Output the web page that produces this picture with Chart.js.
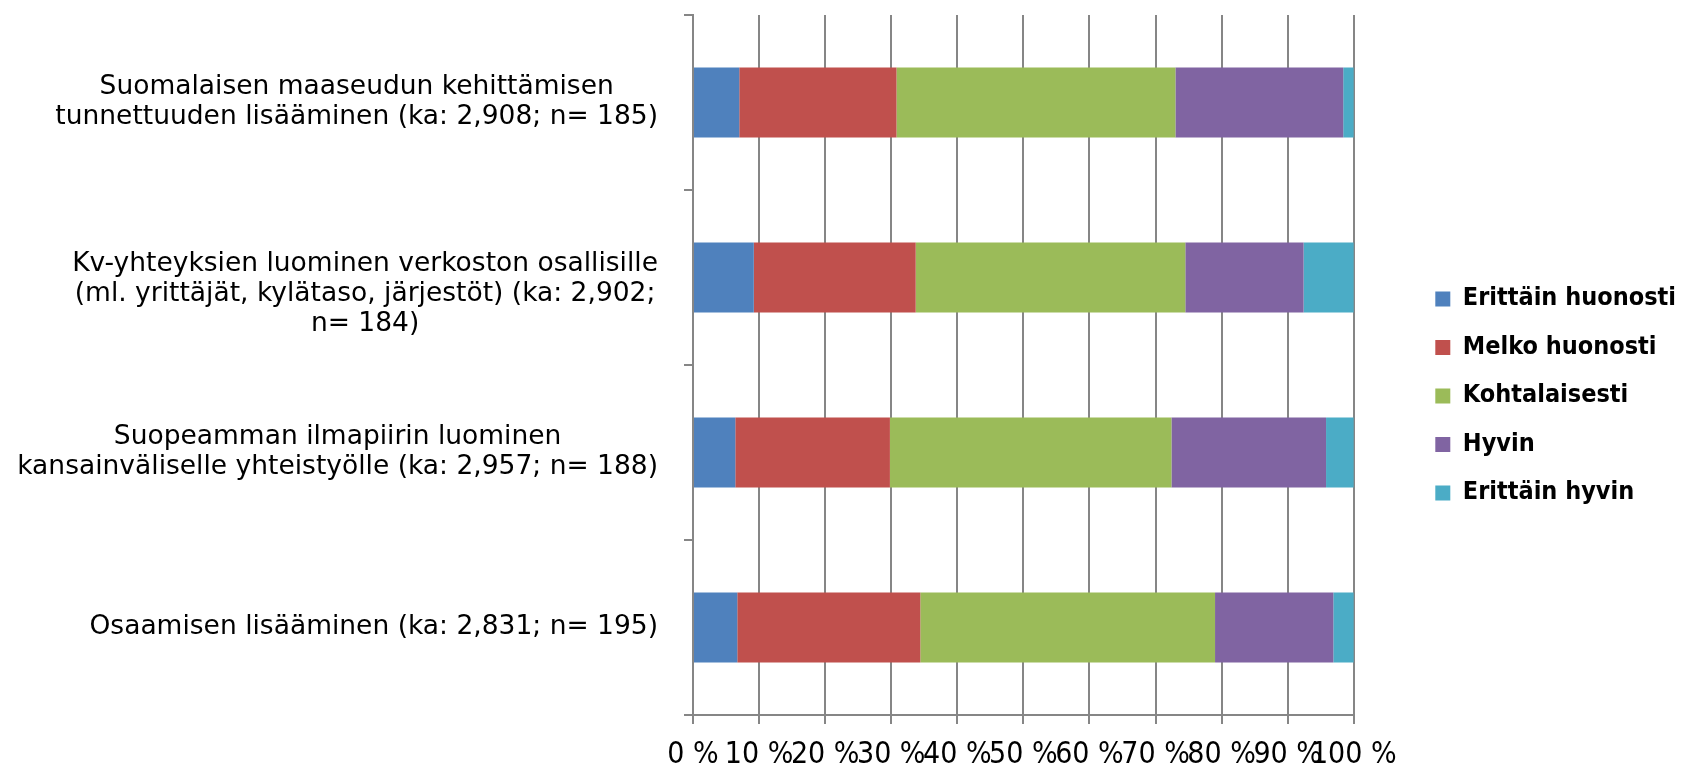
<!DOCTYPE html>
<html>
<head>
<meta charset="utf-8">
<script src="https://cdn.jsdelivr.net/npm/chart.js@4.4.1/dist/chart.umd.min.js"></script>
<style>
html, body { margin: 0; padding: 0; background: #ffffff; }
#wrap { width: 1686px; height: 768px; position: relative; }
canvas { display: block; }
</style>
</head>
<body>
<div id="wrap"><canvas id="c" width="1686" height="768"></canvas></div>
<script>
// ---- Data (percent of respondents) ----
const categories = [
  ["Suomalaisen maaseudun kehittämisen", "tunnettuuden lisääminen (ka: 2,908; n= 185)"],
  ["Kv-yhteyksien luominen verkoston osallisille", "(ml. yrittäjät, kylätaso, järjestöt) (ka: 2,902;", "n= 184)"],
  ["Suopeamman ilmapiirin luominen", "kansainväliselle yhteistyölle (ka: 2,957; n= 188)"],
  ["Osaamisen lisääminen (ka: 2,831; n= 195)"]
];
const seriesNames = ["Erittäin huonosti", "Melko huonosti", "Kohtalaisesti", "Hyvin", "Erittäin hyvin"];
const erittainHuonosti = [7.0, 9.2, 6.4, 6.7];
const melkoHuonosti    = [23.8, 24.5, 23.4, 27.7];
const kohtalaisesti    = [42.2, 40.8, 42.6, 44.6];
const hyvin            = [25.4, 17.9, 23.4, 17.9];
const erittainHyvin    = [1.6, 7.6, 4.2, 3.1];
const xTickLabels = ["0 %", "10 %", "20 %", "30 %", "40 %", "50 %", "60 %", "70 %", "80 %", "90 %", "100 %"];

const seriesValues = [erittainHuonosti, melkoHuonosti, kohtalaisesti, hyvin, erittainHyvin];
const seriesColors = ["#4F81BD", "#C0504D", "#9BBB59", "#8064A2", "#4BACC6"];

const GRID = "#868686";
const COND = '"DejaVu Sans Condensed", "Liberation Sans Narrow", "DejaVu Sans", sans-serif';
const LABEL_FONT = '26.5px "DejaVu Sans", Verdana, sans-serif';
const LABEL_LINE = 30;
const LABEL_GAP = 35;

// Category labels: each multi-line block is centred on itself and right-aligned to the axis
const catLabelPlugin = {
  id: "catLabels",
  afterDraw(chart) {
    const s = chart.scales.y;
    const ctx = chart.ctx;
    ctx.save();
    ctx.font = LABEL_FONT;
    ctx.fillStyle = "#000000";
    ctx.textAlign = "center";
    ctx.textBaseline = "middle";
    chart.data.labels.forEach((lines, i) => {
      const arr = Array.isArray(lines) ? lines : [lines];
      const n = arr.length;
      const yc = s.getPixelForValue(i) + (n > 2 ? (n - 2) * 17 : 0);
      const w = Math.max(...arr.map(l => ctx.measureText(l).width));
      const xc = s.right - LABEL_GAP - w / 2;
      arr.forEach((l, j) => ctx.fillText(l, xc, yc + (j - (n - 1) / 2) * LABEL_LINE));
    });
    ctx.restore();
  }
};

new Chart(document.getElementById("c"), {
  type: "bar",
  data: {
    labels: categories,
    datasets: seriesNames.map((name, i) => ({
      label: name,
      data: seriesValues[i],
      backgroundColor: seriesColors[i],
      borderWidth: 0,
      categoryPercentage: 1.0,
      barPercentage: 0.4
    }))
  },
  options: {
    indexAxis: "y",
    responsive: false,
    animation: false,
    devicePixelRatio: 1,
    layout: { padding: { top: 15, right: 0, bottom: 0, left: 0 } },
    scales: {
      x: {
        stacked: true,
        min: 0,
        max: 100,
        position: "bottom",
        ticks: {
          stepSize: 10,
          autoSkip: false,
          maxRotation: 0,
          minRotation: 0,
          padding: 13,
          color: "#000000",
          font: { family: COND, size: 30 },
          callback: (v, i) => xTickLabels[i]
        },
        grid: { color: GRID, lineWidth: 2, tickLength: 9, drawTicks: true },
        border: { color: GRID, width: 2 },
        afterFit: s => { s.height = 53; }
      },
      y: {
        stacked: true,
        ticks: { display: false },
        grid: { display: true, drawOnChartArea: false, offset: true, color: GRID, lineWidth: 2, tickLength: 9 },
        border: { color: GRID, width: 2 },
        afterFit: s => { s.width = 693; }
      },
      gap: {
        type: "linear",
        position: "right",
        display: true,
        grid: { display: false },
        border: { display: false },
        ticks: { display: false },
        afterFit: s => { s.width = 58; }
      }
    },
    plugins: {
      legend: {
        position: "right",
        align: "center",
        title: { display: true, text: "", font: { size: 4 }, padding: { top: 2, bottom: 2 } },
        labels: {
          boxWidth: 15,
          boxHeight: 15,
          padding: 23.5,
          color: "#000000",
          font: { family: COND, size: 25, weight: "bold" }
        }
      },
      tooltip: { enabled: false }
    }
  },
  plugins: [catLabelPlugin]
});
</script>
</body>
</html>
